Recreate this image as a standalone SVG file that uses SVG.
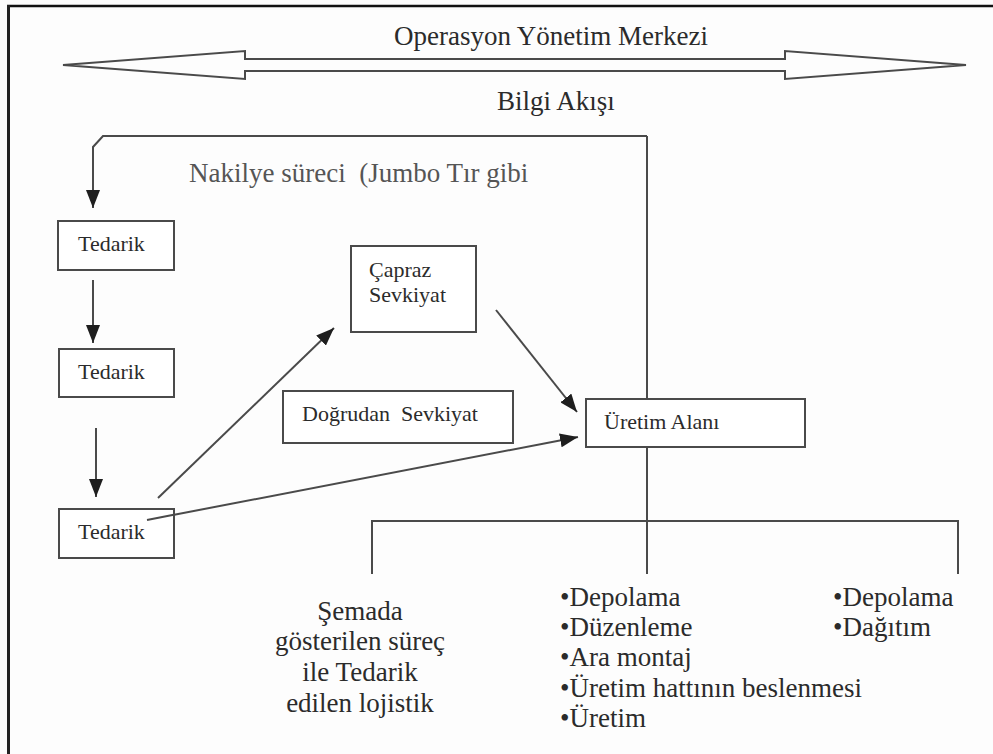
<svg xmlns="http://www.w3.org/2000/svg" width="993" height="754" viewBox="0 0 993 754">
<style>
.t{font-family:'Liberation Serif','Tinos','DejaVu Serif',serif;fill:#2b2b2b;white-space:pre}
.big{font-size:27px}
.lbl{font-size:22px}
.box{fill:#fff;stroke:#4a4a4a;stroke-width:2}
.ln{fill:none;stroke:#4a4a4a;stroke-width:2}
</style>
<defs>
<marker id="ah" viewBox="0 0 18 14" refX="18" refY="7" markerWidth="18" markerHeight="14" markerUnits="userSpaceOnUse" orient="auto">
<path d="M0,0 L18,7 L0,14 Z" fill="#1e1e1e"/>
</marker>
</defs>
<rect width="993" height="754" fill="#fdfdfd"/>
<g id="frame">
<line x1="7" y1="6" x2="993" y2="6" stroke="#111" stroke-width="2.5"/>
<line x1="8.5" y1="5" x2="8.5" y2="754" stroke="#222" stroke-width="3"/>
</g>
<g id="omc">
<polygon class="ln" points="63,65 245,51 245,59 785,59 785,51 966,65 785,79 785,71 245,71 245,79" stroke="#555"/>
<text class="t big" x="551" y="45" text-anchor="middle">Operasyon Yönetim Merkezi</text>
</g>
<g id="connectors">
<path class="ln" d="M647,136 L103,136 L93,147 L93,208" marker-end="url(#ah)"/>
<line class="ln" x1="647" y1="136" x2="647" y2="574"/>
<path class="ln" d="M372,574 L372,521 L958,521 L958,574"/>
<line class="ln" x1="93" y1="280" x2="93" y2="343" marker-end="url(#ah)"/>
<line class="ln" x1="96" y1="428" x2="96" y2="497" marker-end="url(#ah)" stroke-width="2.2"/>
<line class="ln" x1="158" y1="498" x2="334" y2="328" marker-end="url(#ah)"/>
<line class="ln" x1="496" y1="310" x2="577" y2="412" marker-end="url(#ah)"/>
<line class="ln" x1="147" y1="520" x2="578" y2="437" marker-end="url(#ah)"/>
</g>
<text class="t big" x="556" y="110" text-anchor="middle">Bilgi Akışı</text>
<text class="t big" x="189" y="182" style="fill:#555">Nakilye süreci  (Jumbo Tır gibi</text>
<g id="tedarik1">
<rect class="box" x="58" y="221" width="116" height="49"/>
<text class="t lbl" x="78" y="251">Tedarik</text>
</g>
<g id="tedarik2">
<rect class="box" x="59" y="349" width="115" height="48"/>
<text class="t lbl" x="78" y="379">Tedarik</text>
</g>
<g id="tedarik3">
<rect class="box" x="59" y="509" width="115" height="49"/>
<text class="t lbl" x="78" y="539">Tedarik</text>
</g>
<line class="ln" x1="147" y1="520" x2="175" y2="514.6"/>
<g id="capraz">
<rect class="box" x="351" y="246" width="125" height="86"/>
<text class="t lbl" x="369" y="277">Çapraz</text>
<text class="t lbl" x="369" y="302">Sevkiyat</text>
</g>
<g id="dogrudan">
<rect class="box" x="283" y="391" width="230" height="52"/>
<text class="t lbl" x="302" y="421">Doğrudan  Sevkiyat</text>
</g>
<g id="uretim">
<rect class="box" x="586" y="399" width="219" height="48"/>
<text class="t lbl" x="604" y="429">Üretim Alanı</text>
</g>
<g id="semada">
<text class="t big" text-anchor="middle" x="360" y="620">Şemada</text>
<text class="t big" text-anchor="middle" x="360" y="650">gösterilen süreç</text>
<text class="t big" text-anchor="middle" x="360" y="681">ile Tedarik</text>
<text class="t big" text-anchor="middle" x="360" y="712">edilen lojistik</text>
</g>
<g id="liste1">
<text class="t big" x="560" y="606">•Depolama</text>
<text class="t big" x="560" y="636">•Düzenleme</text>
<text class="t big" x="560" y="666">•Ara montaj</text>
<text class="t big" x="560" y="697">•Üretim hattının beslenmesi</text>
<text class="t big" x="560" y="727">•Üretim</text>
</g>
<g id="liste2">
<text class="t big" x="833" y="606">•Depolama</text>
<text class="t big" x="833" y="636">•Dağıtım</text>
</g>
</svg>
